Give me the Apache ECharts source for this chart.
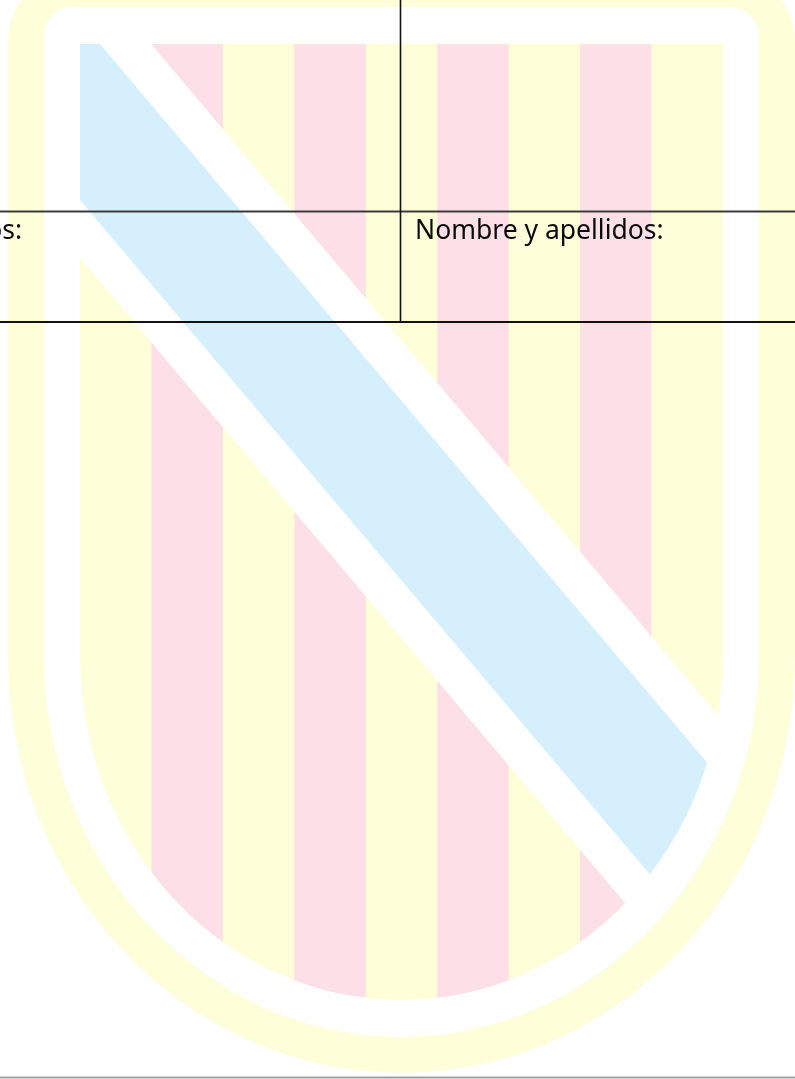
<!DOCTYPE html>
<html>
<head>
<meta charset="utf-8">
<script src="https://cdn.jsdelivr.net/npm/echarts@6/dist/echarts.min.js"></script>
<style>
html, body { margin: 0; padding: 0; background: #fff; }
#main { width: 795px; height: 1079px; }
</style>
</head>
<body>
<div id="main"></div>
<script>
// palos del escudo (9 franjas verticales) y banda diagonal
const stripes = ['or', 'gules', 'or', 'gules', 'or', 'gules', 'or', 'gules', 'or'];
const bend = ['argent', 'azure'];
const cellLabels = ['Nombre y apellidos:', 'Nombre y apellidos:'];

const PAGE_W = 795, PAGE_H = 1079;
const tincture = { or: '#fefed9', gules: '#fde0e7', azure: '#d5f0fc', argent: '#ffffff' };

// contornos del escudo: borde exterior, filete blanco y campo
const outer = { l: 8, r: 795, t: -29, rad: 70, cy: 656, b: 1073 };
const frame = { l: 44, r: 759, t: 7, rad: 28, cy: 656, b: 1037 };
const field = { l: 80, r: 723, t: 44, rad: 0, cy: 656, b: 1000 };

const chart = echarts.init(document.getElementById('main'), null, { renderer: 'canvas' });

function renderItem(params, api) {
    const P = (x, y) => api.coord([x, y]);

    function shieldPath(s, ccw) {
        const [l, t] = P(s.l, s.t);
        const r = P(s.r, s.t)[0];
        const cy = P(0, s.cy)[1];
        const b = P(0, s.b)[1];
        const rx = (r - l) / 2, ry = b - cy, c = s.rad;
        if (!ccw) {
            let d = `M${l} ${t + c} `;
            if (c) d += `A${c} ${c} 0 0 1 ${l + c} ${t} `;
            d += `L${r - c} ${t} `;
            if (c) d += `A${c} ${c} 0 0 1 ${r} ${t + c} `;
            d += `L${r} ${cy} A${rx} ${ry} 0 0 1 ${l} ${cy} Z `;
            return d;
        }
        let d = `M${l + c} ${t} `;
        if (c) d += `A${c} ${c} 0 0 0 ${l} ${t + c} `;
        d += `L${l} ${cy} A${rx} ${ry} 0 0 0 ${r} ${cy} L${r} ${t + c} `;
        if (c) d += `A${c} ${c} 0 0 0 ${r - c} ${t} `;
        d += 'Z ';
        return d;
    }

    const children = [];

    // campo de oro
    children.push({
        type: 'path',
        shape: { pathData: shieldPath(field) },
        style: { fill: tincture.or }
    });

    // palos de gules
    const sw = (field.r - field.l) / stripes.length;
    stripes.forEach((s, i) => {
        if (s === 'or') return;
        const a = P(field.l + i * sw, field.t);
        const b = P(field.l + (i + 1) * sw, field.b);
        children.push({
            type: 'rect',
            shape: { x: a[0], y: a[1], width: b[0] - a[0], height: b[1] - a[1] },
            style: { fill: tincture[s] }
        });
    });

    // banda: filete blanco y banda azul
    const k = 0.845;
    const far = 1150;
    const bands = [
        { top: 151, left: 258 },   // argent
        { top: 100, left: 200 }    // azure
    ];
    bend.forEach((t, i) => {
        const bd = bands[i];
        const pts = [
            P(field.l, field.t),
            P(bd.top, field.t),
            P(bd.top + k * (far - field.t), far),
            P(field.l + k * (far - bd.left), far),
            P(field.l, bd.left)
        ];
        children.push({
            type: 'polygon',
            shape: { points: pts },
            style: { fill: tincture[t] }
        });
    });

    // filete blanco (anillo)
    children.push({
        type: 'path',
        shape: { pathData: shieldPath(frame) + shieldPath(field, true) },
        style: { fill: tincture.argent }
    });
    // bordura de oro
    children.push({
        type: 'path',
        shape: { pathData: shieldPath(outer) + shieldPath(frame, true) },
        style: { fill: tincture.or }
    });
    // fondo de la página fuera del escudo
    const p0 = P(-60, -60), p1 = P(PAGE_W + 60, PAGE_H + 60);
    children.push({
        type: 'path',
        shape: {
            pathData: `M${p0[0]} ${p0[1]} L${p1[0]} ${p0[1]} L${p1[0]} ${p1[1]} L${p0[0]} ${p1[1]} Z ` +
                shieldPath(outer, true)
        },
        style: { fill: '#ffffff' }
    });

    // tabla del formulario
    const line = (x1, y1, x2, y2, color, w) => {
        const a = P(x1, y1), b = P(x2, y2);
        children.push({
            type: 'line',
            shape: { x1: a[0], y1: a[1], x2: b[0], y2: b[1] },
            style: { stroke: color, lineWidth: w }
        });
    };
    line(0, 211.5, PAGE_W, 211.5, '#3a3a3a', 2);
    line(0, 322, PAGE_W, 322, '#111111', 2);
    line(400.5, 0, 400.5, 322, '#111111', 1.6);
    line(0, 1077.5, PAGE_W, 1077.5, '#a0a0a0', 2);

    const t1 = P(22, 231), t2 = P(415, 231);
    const font = { fill: '#0a0a0a', fontSize: 26.5, fontFamily: 'Noto Sans', verticalAlign: 'middle' };
    children.push({
        type: 'text',
        x: t1[0], y: t1[1],
        style: Object.assign({ text: cellLabels[0], align: 'right' }, font)
    });
    children.push({
        type: 'text',
        x: t2[0], y: t2[1],
        style: Object.assign({ text: cellLabels[1], align: 'left' }, font)
    });

    return { type: 'group', children };
}

chart.setOption({
    animation: false,
    backgroundColor: '#ffffff',
    grid: { left: 0, right: 0, top: 0, bottom: 0 },
    xAxis: { type: 'value', min: 0, max: PAGE_W, show: false },
    yAxis: { type: 'value', min: 0, max: PAGE_H, inverse: true, show: false },
    series: [{
        type: 'custom',
        coordinateSystem: 'cartesian2d',
        clip: false,
        silent: true,
        data: [[0, 0]],
        renderItem
    }]
});
</script>
</body>
</html>
